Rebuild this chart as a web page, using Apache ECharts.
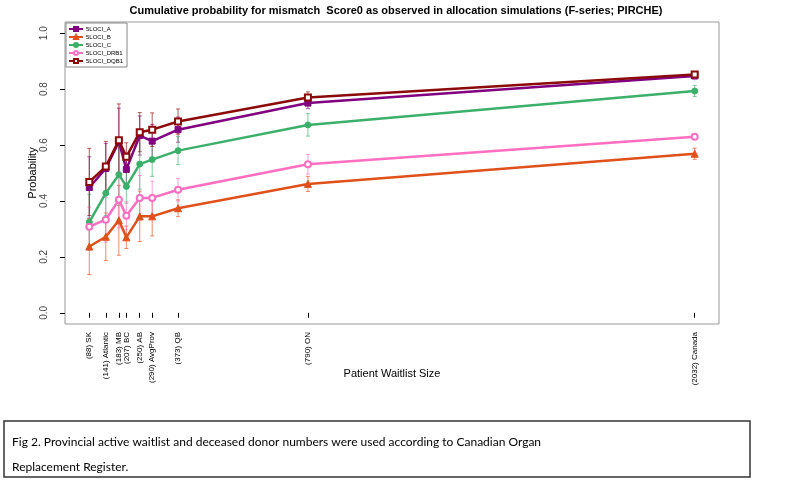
<!DOCTYPE html>
<html>
<head>
<meta charset="utf-8">
<script src="https://cdn.jsdelivr.net/npm/echarts@6/dist/echarts.min.js"></script>
<style>
html,body{margin:0;padding:0;background:#fff;}
#chart{width:787px;height:481px;}
</style>
</head>
<body>
<div id="chart"></div>
<script>
// ---- data ----
const waitlist = [88, 141, 183, 207, 250, 290, 373, 790, 2032];
const tickLabels = ['(88) SK', '(141) Atlantic', '(183) MB', '(207) BC', '(250) AB', '(290) AvgProv', '(373) QB', '(790) ON', '(2032) Canada'];
const yTicks = [0, 0.2, 0.4, 0.6, 0.8, 1.0];

const seriesNames = ['5LOCI_A', '5LOCI_B', '5LOCI_C', '5LOCI_DRB1', '5LOCI_DQB1'];
const locA    = [0.448, 0.516, 0.612, 0.513, 0.634, 0.614, 0.655, 0.750, 0.847];
const locB    = [0.237, 0.272, 0.331, 0.270, 0.345, 0.345, 0.374, 0.461, 0.569];
const locC    = [0.324, 0.428, 0.494, 0.452, 0.532, 0.548, 0.580, 0.672, 0.793];
const locDRB1 = [0.308, 0.333, 0.404, 0.347, 0.411, 0.411, 0.440, 0.531, 0.630];
const locDQB1 = [0.468, 0.523, 0.617, 0.558, 0.646, 0.655, 0.684, 0.770, 0.852];

// half-widths of error bars
const errA    = [0.11, 0.09, 0.12, 0.05, 0.07, 0.06, 0.045, 0.02, 0.01];
const errB    = [0.10, 0.085, 0.125, 0.04, 0.09, 0.07, 0.03, 0.027, 0.02];
const errC    = [0.10, 0.08, 0.11, 0.06, 0.09, 0.06, 0.05, 0.04, 0.02];
const errDRB1 = [0.07, 0.08, 0.10, 0.05, 0.08, 0.06, 0.04, 0.035, 0.01];
const errDQB1 = [0.12, 0.09, 0.13, 0.05, 0.07, 0.06, 0.045, 0.02, 0.01];

const seriesValues = [locA, locB, locC, locDRB1, locDQB1];
const seriesErrors = [errA, errB, errC, errDRB1, errDQB1];
const colors = ['#800080', '#E0501A', '#3CB06A', '#FF6EC0', '#8B0A0A'];
const symbols = ['rect', 'triangle', 'circle', 'emptyCircle', 'emptyRect'];

// ---- build ----
const font = 'Liberation Sans, Arial, sans-serif';
const series = [];
seriesValues.forEach((vals, s) => {
  const errs = seriesErrors[s];
  series.push({
    type: 'custom',
    name: seriesNames[s] + '_err',
    silent: true,
    data: vals.map((v, i) => [waitlist[i], v - errs[i], v + errs[i]]),
    renderItem: function (params, api) {
      const x = api.value(0);
      const lo = api.coord([x, api.value(1)]);
      const hi = api.coord([x, api.value(2)]);
      const c = 2;
      const st = { stroke: colors[s], lineWidth: 1, opacity: 0.65 };
      return {
        type: 'group',
        children: [
          { type: 'line', shape: { x1: lo[0], y1: lo[1], x2: hi[0], y2: hi[1] }, style: st },
          { type: 'line', shape: { x1: lo[0] - c, y1: lo[1], x2: lo[0] + c, y2: lo[1] }, style: st },
          { type: 'line', shape: { x1: hi[0] - c, y1: hi[1], x2: hi[0] + c, y2: hi[1] }, style: st }
        ]
      };
    },
    z: 1
  });
});
seriesValues.forEach((vals, s) => {
  series.push({
    type: 'line',
    name: seriesNames[s],
    data: vals.map((v, i) => [waitlist[i], v]),
    symbol: symbols[s],
    symbolSize: s === 1 ? 7 : 6,
    showAllSymbol: true,
    lineStyle: { color: colors[s], width: 2.5 },
    itemStyle: { color: colors[s], borderColor: colors[s], borderWidth: 1 },
    animation: false,
    z: 2 + s
  });
});

const chart = echarts.init(document.getElementById('chart'), null, { renderer: 'canvas' });
chart.setOption({
  animation: false,
  backgroundColor: '#fff',
  color: colors,
  title: {
    text: 'Cumulative probability for mismatch  Score0 as observed in allocation simulations (F-series; PIRCHE)',
    left: 391, textAlign: 'center', top: 0,
    textStyle: { fontFamily: font, fontSize: 11, fontWeight: 'bold', color: '#000' }
  },
  legend: {
    data: seriesNames,
    orient: 'vertical',
    left: 66, top: 23,
    itemWidth: 14, itemHeight: 5, itemGap: 2,
    padding: [3, 4, 3, 2],
    borderColor: '#888', borderWidth: 1,
    textStyle: { fontFamily: font, fontSize: 6, color: '#000', padding: [0, 0, 0, -2] }
  },
  grid: { left: 65, right: 68, top: 22, bottom: 157, show: true, borderColor: '#999', borderWidth: 1, backgroundColor: 'transparent' },
  xAxis: {
    type: 'value', min: 10, max: 2110,
    name: 'Patient Waitlist Size', nameLocation: 'middle', nameGap: 44, nameMoveOverlap: false,
    nameTextStyle: { fontFamily: font, fontSize: 11, color: '#000' },
    axisLine: { show: false },
    splitLine: { show: false },
    axisTick: { show: true, length: 5, inside: false, customValues: waitlist, lineStyle: { color: '#000' } },
    axisLabel: {
      customValues: waitlist, rotate: 90, margin: 8,
      fontFamily: font, fontSize: 8, color: '#000',
      formatter: function (v) { const i = waitlist.indexOf(v); return i >= 0 ? tickLabels[i] : ''; }
    }
  },
  yAxis: {
    type: 'value', min: -0.04, max: 1.04,
    name: 'Probability', nameLocation: 'middle', nameGap: 27, nameMoveOverlap: false,
    nameTextStyle: { fontFamily: font, fontSize: 11, color: '#000' },
    axisLine: { show: false },
    splitLine: { show: false },
    axisTick: { show: true, length: 5, customValues: yTicks, lineStyle: { color: '#000' } },
    axisLabel: {
      customValues: yTicks, rotate: 90, margin: 16,
      fontFamily: font, fontSize: 10, color: '#444',
      formatter: function (v) { return v.toFixed(1); }
    }
  },
  graphic: [
    { type: 'rect', shape: { x: 4, y: 421, width: 746, height: 56 }, style: { fill: 'none', stroke: '#333', lineWidth: 1.5 } },
    { type: 'text', left: 12, top: 430, style: { text: 'Fig 2. Provincial active waitlist and deceased donor numbers were used according to Canadian Organ\nReplacement Register.', fontFamily: 'Lato, sans-serif', fontSize: 12, lineHeight: 25, fill: '#000' } }
  ],
  series: series
});
</script>
</body>
</html>
